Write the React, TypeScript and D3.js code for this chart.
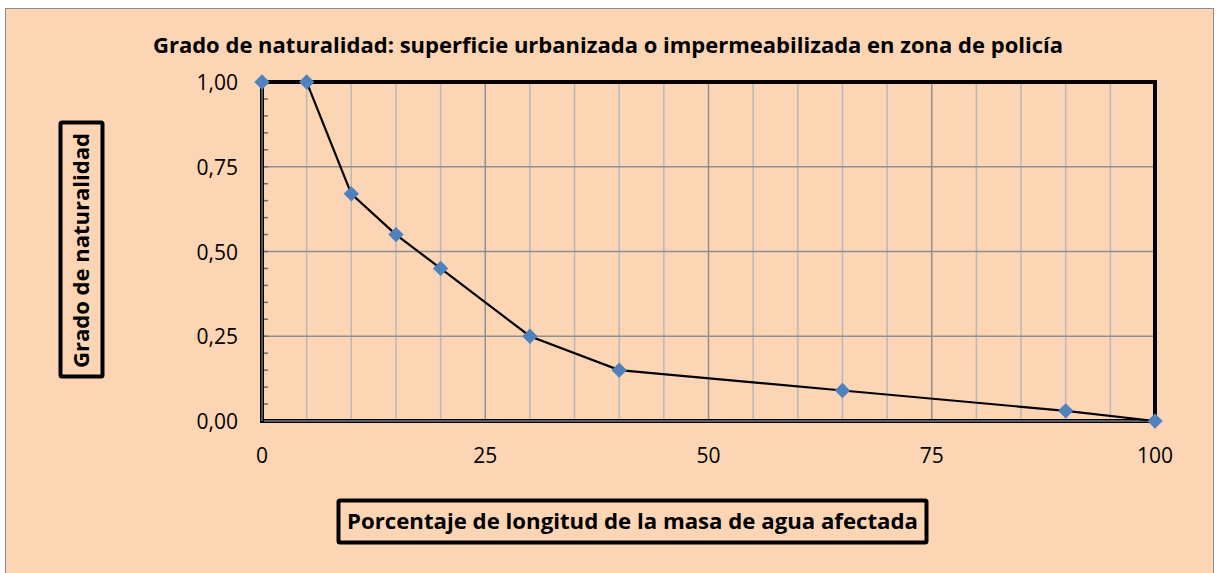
import React, { useEffect, useRef } from 'react';
import * as d3 from 'd3';

// Data
const xValues = [0, 5, 10, 15, 20, 30, 40, 65, 90, 100];
const yValues = [1, 1, 0.67, 0.55, 0.45, 0.25, 0.15, 0.09, 0.03, 0];
const xTicks = [0, 25, 50, 75, 100];
const yTicks = [0, 0.25, 0.5, 0.75, 1];

const titleText = 'Grado de naturalidad: superficie urbanizada o impermeabilizada en zona de policía';
const xLabelText = 'Porcentaje de longitud de la masa de agua afectada';
const yLabelText = 'Grado de naturalidad';

function App() {
  const svgRef = useRef<SVGSVGElement | null>(null);

  useEffect(() => {
    if (!svgRef.current) return;
    const svg = d3.select(svgRef.current);
    svg.selectAll('*').remove();

    const width = 1216;
    const height = 573;
    const font = "'Open Sans', 'Noto Sans', sans-serif";

    // Chart background
    svg.append('rect').attr('width', width).attr('height', height).attr('fill', '#fff');
    svg.append('rect')
      .attr('x', 5.5).attr('y', 8.5)
      .attr('width', 1208).attr('height', 580)
      .attr('fill', '#FCD5B5')
      .attr('stroke', '#8c8c8c')
      .attr('stroke-width', 1);

    const x = d3.scaleLinear().domain([0, 100]).range([262, 1155]);
    const y = d3.scaleLinear().domain([0, 1]).range([421, 82]);

    const g = svg.append('g');

    // Vertical grid lines every 5
    d3.range(5, 100, 5).forEach(v => {
      const major = v % 25 === 0;
      g.append('line')
        .attr('x1', x(v)).attr('x2', x(v))
        .attr('y1', y(1)).attr('y2', y(0))
        .attr('stroke', major ? '#8f8f8f' : '#b8b8b8')
        .attr('stroke-width', 1.5);
    });

    // Horizontal grid lines
    yTicks.filter(v => v > 0 && v < 1).forEach(v => {
      g.append('line')
        .attr('x1', x(0)).attr('x2', x(100))
        .attr('y1', y(v)).attr('y2', y(v))
        .attr('stroke', '#8f8f8f')
        .attr('stroke-width', 1.5);
    });

    // Minor ticks on y axis
    d3.range(0.05, 1, 0.05).forEach(v => {
      g.append('line')
        .attr('x1', x(0)).attr('x2', x(0) + 6)
        .attr('y1', y(v)).attr('y2', y(v))
        .attr('stroke', '#6e6e6e')
        .attr('stroke-width', 1.5);
    });

    // Plot area border (top / right)
    g.append('path')
      .attr('d', `M${x(0)},${y(1)} H${x(100)} V${y(0)}`)
      .attr('fill', 'none')
      .attr('stroke', '#000')
      .attr('stroke-width', 4);

    // Axes lines
    g.append('line')
      .attr('x1', x(0)).attr('x2', x(100))
      .attr('y1', y(0)).attr('y2', y(0))
      .attr('stroke', '#000').attr('stroke-width', 4);
    g.append('line')
      .attr('x1', x(0)).attr('x2', x(100))
      .attr('y1', y(0)).attr('y2', y(0))
      .attr('stroke', '#7a7a7a').attr('stroke-width', 1.5);
    g.append('line')
      .attr('x1', x(0)).attr('x2', x(0))
      .attr('y1', y(1)).attr('y2', y(0) + 2)
      .attr('stroke', '#000').attr('stroke-width', 4);
    g.append('line')
      .attr('x1', x(0)).attr('x2', x(0))
      .attr('y1', y(1)).attr('y2', y(0))
      .attr('stroke', '#6e6e6e').attr('stroke-width', 1.5);

    // Tick labels
    yTicks.forEach(v => {
      g.append('text')
        .attr('x', 238).attr('y', y(v) + 8)
        .attr('text-anchor', 'end')
        .attr('font-family', font)
        .attr('font-size', 21)
        .attr('fill', '#000')
        .text(d3.format('.2f')(v).replace('.', ','));
    });
    xTicks.forEach(v => {
      g.append('text')
        .attr('x', x(v)).attr('y', 463)
        .attr('text-anchor', 'middle')
        .attr('font-family', font)
        .attr('font-size', 21)
        .attr('fill', '#000')
        .text(String(v));
    });

    // Series line
    const pts = xValues.map((v, i) => [v, yValues[i]] as [number, number]);
    const line = d3.line<[number, number]>().x(d => x(d[0])).y(d => y(d[1]));
    g.append('path')
      .datum(pts)
      .attr('d', line)
      .attr('fill', 'none')
      .attr('stroke', '#000')
      .attr('stroke-width', 2.2);

    // Diamond markers
    const diamond = d3.symbol().type(d3.symbolDiamond2).size(150);
    pts.forEach(d => {
      g.append('path')
        .attr('d', diamond() as string)
        .attr('transform', `translate(${x(d[0])},${y(d[1])})`)
        .attr('fill', '#4F81BD');
    });

    // Title
    svg.append('text')
      .attr('x', 153).attr('y', 53)
      .attr('font-family', font)
      .attr('font-size', 21)
      .attr('font-weight', 'bold')
      .attr('textLength', 910)
      .attr('lengthAdjust', 'spacingAndGlyphs')
      .text(titleText);

    // X axis title with box
    svg.append('rect')
      .attr('x', 338.5).attr('y', 500.5)
      .attr('width', 588).attr('height', 42)
      .attr('fill', 'none')
      .attr('stroke', '#000')
      .attr('stroke-width', 4)
      .attr('rx', 1.5);
    svg.append('text')
      .attr('x', 347).attr('y', 529)
      .attr('font-family', font)
      .attr('font-size', 21)
      .attr('font-weight', 'bold')
      .attr('textLength', 571)
      .attr('lengthAdjust', 'spacingAndGlyphs')
      .text(xLabelText);

    // Y axis title with box
    svg.append('rect')
      .attr('x', 60.5).attr('y', 122.5)
      .attr('width', 42).attr('height', 254)
      .attr('fill', 'none')
      .attr('stroke', '#000')
      .attr('stroke-width', 4)
      .attr('rx', 1.5);
    svg.append('text')
      .attr('transform', `translate(89,368) rotate(-90)`)
      .attr('font-family', font)
      .attr('font-size', 21)
      .attr('font-weight', 'bold')
      .attr('textLength', 235)
      .attr('lengthAdjust', 'spacingAndGlyphs')
      .text(yLabelText);
  }, []);

  return (
    <svg
      ref={svgRef}
      width={1216}
      height={573}
      style={{ position: 'absolute', left: 0, top: 0, display: 'block' }}
    />
  );
}

export default App;
